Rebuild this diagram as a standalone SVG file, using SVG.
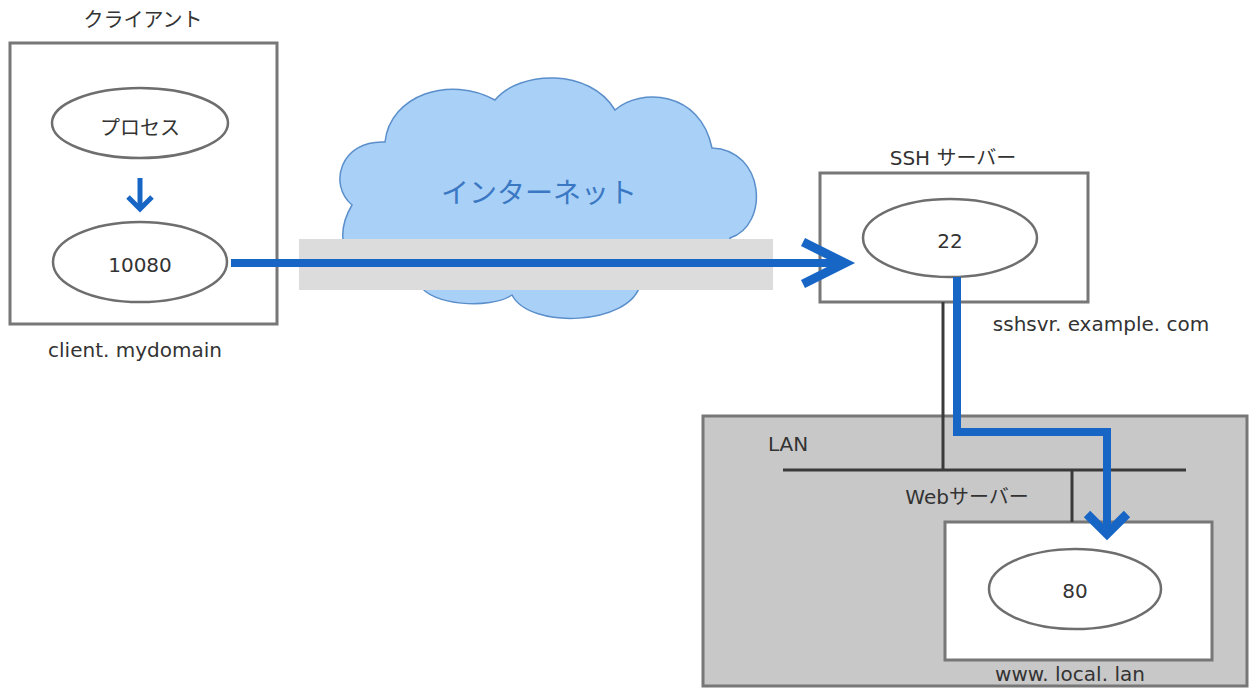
<svg xmlns="http://www.w3.org/2000/svg" width="1249" height="689" viewBox="0 0 1249 689">
<style>
.box{fill:#fff;stroke:#777;stroke-width:3}
.ell{fill:#fff;stroke:#6e6e6e;stroke-width:2.5}
.t{font-family:"DejaVu Sans","Noto Sans CJK JP",sans-serif;font-size:20px;fill:#333;text-anchor:middle;dominant-baseline:central}
.flow{fill:none;stroke:#1766c6;stroke-width:8;stroke-linejoin:miter}
.wire{fill:none;stroke:#3a3a3a;stroke-width:3}
</style>
<rect width="1249" height="689" fill="#fff"/>
<g id="lan">
<rect x="703" y="416" width="544" height="270" fill="#c8c8c8" stroke="#777" stroke-width="3"/>
<text class="t" x="768" y="444" style="text-anchor:start">LAN</text>
</g>
<g id="internet">
<path d="M352,205 C328,185 340,140 385,142 C390,95 450,75 495,100 C520,70 590,68 615,110 C640,88 700,90 712,148 C765,150 770,225 730,238 C740,275 690,290 640,285 C630,325 530,330 512,295 C490,310 430,305 420,285 C360,290 325,250 352,205 Z" fill="#a9d0f6" stroke="#5b8fcb" stroke-width="1.5"/>
<text class="t" x="539" y="193" style="font-size:28px;fill:#3b78c4">インターネット</text>
<rect x="299" y="239" width="474" height="51" fill="#dcdcdc"/>
</g>
<g id="client">
<text class="t" x="143" y="20">クライアント</text>
<rect class="box" x="10" y="43" width="267" height="281"/>
<text class="t" x="135" y="350">client. mydomain</text>
</g>
<g id="process">
<ellipse class="ell" cx="140" cy="123" rx="88" ry="35"/>
<text class="t" x="140" y="128">プロセス</text>
</g>
<g id="port10080">
<ellipse class="ell" cx="140" cy="262" rx="87" ry="40"/>
<text class="t" x="140" y="265">10080</text>
</g>
<g id="sshserver">
<text class="t" x="953" y="158">SSH サーバー</text>
<rect class="box" x="820" y="173" width="268" height="129"/>
<text class="t" x="1101" y="324">sshsvr. example. com</text>
</g>
<g id="port22">
<ellipse class="ell" cx="950" cy="238" rx="87" ry="39"/>
<text class="t" x="950" y="241">22</text>
</g>
<g id="webserver">
<text class="t" x="967" y="497">Webサーバー</text>
<rect class="box" x="945" y="522" width="267" height="138"/>
<text class="t" x="1070" y="674">www. local. lan</text>
</g>
<g id="port80">
<ellipse class="ell" cx="1075" cy="589" rx="86" ry="40"/>
<text class="t" x="1075" y="591">80</text>
</g>
<g id="connectors">
<line class="wire" x1="943" y1="302" x2="943" y2="470"/>
<line class="wire" x1="783" y1="470" x2="1186" y2="470"/>
<line class="wire" x1="1072" y1="470" x2="1072" y2="522"/>
<line class="flow" x1="140" y1="178" x2="140" y2="207" style="stroke-width:5"/>
<polyline class="flow" points="128,197 140,209 152,197" style="stroke-width:5"/>
<line class="flow" x1="231" y1="263" x2="843" y2="263"/>
<polyline class="flow" points="803,242 845,263 803,284" style="stroke-width:9"/>
<polyline class="flow" points="957,277 957,432 1107,432 1107,532"/>
<polyline class="flow" points="1087,514 1107,534 1127,514" style="stroke-width:9"/>
</g>
</svg>
